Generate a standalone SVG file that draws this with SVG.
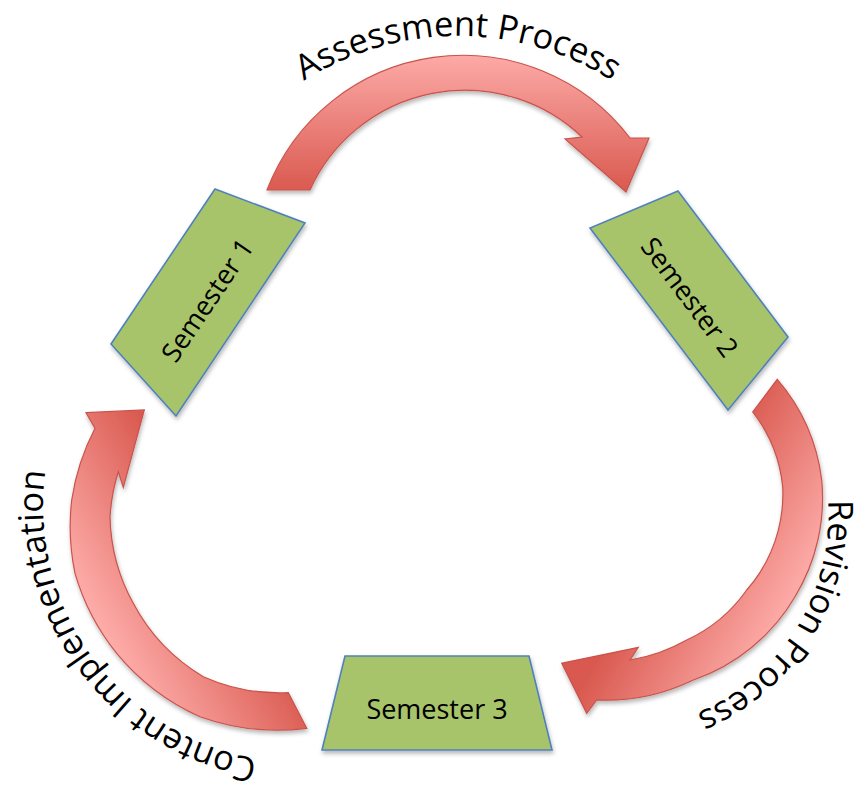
<svg xmlns="http://www.w3.org/2000/svg" width="859" height="788" viewBox="0 0 859 788">
<defs>
<style>
.arrow{stroke:#c9534c;stroke-width:1.2;filter:url(#sh)}
.box{fill:#a8c46b;stroke:#4f81bd;stroke-width:1.6;filter:url(#sh)}
.lbl{font-family:"Open Sans","Liberation Sans",sans-serif;font-size:27px;fill:#000;text-anchor:middle}
.arc{font-family:"Open Sans","Liberation Sans",sans-serif;font-size:34.5px;fill:#000}
</style>
<filter id="sh" x="-15%" y="-15%" width="140%" height="140%">
<feDropShadow dx="1" dy="3" stdDeviation="2" flood-color="#000" flood-opacity="0.28"/>
</filter>
<linearGradient id="gTop" gradientUnits="userSpaceOnUse" x1="464" y1="53" x2="464" y2="192">
<stop offset="0" stop-color="#fdaba8"/><stop offset="1" stop-color="#d9594f"/>
</linearGradient>
<linearGradient id="gRight" gradientUnits="userSpaceOnUse" x1="798" y1="591" x2="677" y2="521">
<stop offset="0" stop-color="#fdaba8"/><stop offset="1" stop-color="#d9594f"/>
</linearGradient>
<linearGradient id="gLeft" gradientUnits="userSpaceOnUse" x1="100" y1="622" x2="221" y2="552">
<stop offset="0" stop-color="#fdaba8"/><stop offset="1" stop-color="#d9594f"/>
</linearGradient>
<path id="tpTop" d="M 171,323 A 287 287 0 0 1 745,323"/>
<path id="tpRight" d="M 728,333.1 A 215 215 0 0 1 502,698.9"/>
<path id="tpLeft" d="M 450.9,712.1 A 256 256 0 0 1 147.1,299.9"/>
</defs>
<rect width="859" height="788" fill="#fff"/>
<g id="connectors">
<g id="arrow-assessment">
<path class="arrow" fill="url(#gTop)" d="M 267,190 A 210 210 0 0 1 630,138 L 649,138 L 626,192 L 565,139 L 582,137 A 170 170 0 0 0 310,190 Z"/>
<text class="arc"><textPath href="#tpTop" startOffset="50%" text-anchor="middle">Assessment Process</textPath></text>
</g>
<g id="arrow-revision">
<path class="arrow" fill="url(#gRight)" d="M 777.3,379.3 A 190 190 0 0 1 821.7,480 A 190 190 0 0 1 795,596.7 A 190 190 0 0 1 693.3,680 A 200 200 0 0 1 596.7,700 L 586.7,713.3 L 561.7,663.3 L 638.3,647.3 L 630,660 A 170 170 0 0 0 686.7,640 A 150 150 0 0 0 746.7,590 A 145 145 0 0 0 782.7,486.7 A 145 145 0 0 0 752.7,412 Z"/>
<text class="arc"><textPath href="#tpRight" startOffset="50%" text-anchor="middle">Revision Process</textPath></text>
</g>
<g id="arrow-content">
<path class="arrow" fill="url(#gLeft)" d="M 86,412.7 L 144.3,410 L 123.3,487.3 L 118.3,471.7 A 187 187 0 0 0 110,516.7 A 187 187 0 0 0 133.3,603.3 A 187 187 0 0 0 203.3,676.7 A 187 187 0 0 0 288.3,692.7 L 306.7,728.3 A 229 229 0 0 1 200,716.7 A 229 229 0 0 1 116.7,653.3 A 229 229 0 0 1 75,573.3 A 229 229 0 0 1 71.7,500 A 229 229 0 0 1 95,428.3 Z"/>
<text class="arc"><textPath href="#tpLeft" startOffset="50%" text-anchor="middle">Content Implementation</textPath></text>
</g>
</g>
<g id="semester1">
<polygon class="box" points="215,189 305,223 176,416 111,344"/>
<text class="lbl" transform="translate(207,300) rotate(-56)" x="0" y="10">Semester 1</text>
</g>
<g id="semester2">
<polygon class="box" points="678,191 788,337 728,410 590,228"/>
<text class="lbl" transform="translate(690,297) rotate(53)" x="0" y="10">Semester 2</text>
</g>
<g id="semester3">
<polygon class="box" points="345,656 529,656 552,750 322,750"/>
<text class="lbl" transform="translate(437,709)" x="0" y="10">Semester 3</text>
</g>
</svg>
